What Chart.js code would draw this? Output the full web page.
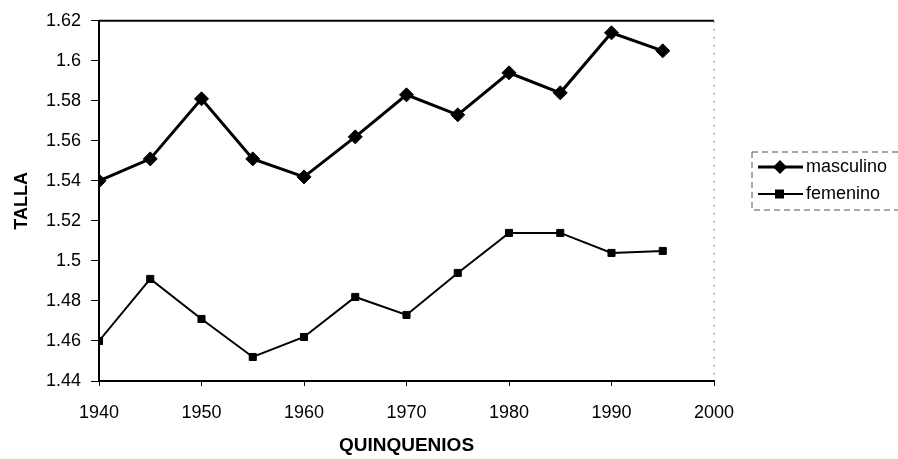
<!DOCTYPE html>
<html>
<head>
<meta charset="utf-8">
<script src="https://cdn.jsdelivr.net/npm/chart.js@4/dist/chart.umd.min.js"></script>
<style>
  html, body { margin: 0; padding: 0; background: #fff; }
  #wrap { width: 898px; height: 459px; position: relative; }
</style>
</head>
<body>
<div id="wrap"><canvas id="myChart"></canvas></div>
<script>
// quinquenios
var years = [1940, 1945, 1950, 1955, 1960, 1965, 1970, 1975, 1980, 1985, 1990, 1995]
// talla media
var masculino = [1.540, 1.551, 1.581, 1.551, 1.542, 1.562, 1.583, 1.573, 1.594, 1.584, 1.614, 1.605]
var femenino  = [1.460, 1.491, 1.471, 1.452, 1.462, 1.482, 1.473, 1.494, 1.514, 1.514, 1.504, 1.505]
var seriesNames = ['masculino', 'femenino']

function pts(vals){
  var out = []
  for(var i=0;i<years.length;i++){
    out.push({x: years[i], y: vals[i]})
  }
  return out
}

var FONT = '"Liberation Sans", Arial, sans-serif'

// box round the plot + hand drawn legend
var framePlugin = {
  id: 'frame',
  afterDraw: function(chart){
    var c = chart.ctx
    var a = chart.chartArea
    c.save()
    c.strokeStyle = '#000'
    c.lineWidth = 2
    c.beginPath()
    c.moveTo(a.left, a.top)
    c.lineTo(a.right, a.top)
    c.stroke()
    c.lineWidth = 1
    c.strokeStyle = '#777'
    c.setLineDash([2, 6])
    c.beginPath()
    c.moveTo(a.right, a.top)
    c.lineTo(a.right, a.bottom)
    c.stroke()

    // legend box
    var bx = 752, by = 152, bw = 150, bh = 58
    c.setLineDash([6, 4])
    c.strokeStyle = '#555'
    c.strokeRect(bx, by, bw, bh)
    c.setLineDash([])

    var rows = [167, 194]
    chart.data.datasets.forEach(function(ds, i){
      var y = rows[i]
      c.strokeStyle = '#000'
      c.lineWidth = ds.borderWidth
      c.beginPath()
      c.moveTo(758, y)
      c.lineTo(803, y)
      c.stroke()
      c.fillStyle = '#000'
      c.beginPath()
      if(ds.pointStyle === 'rectRot'){
        c.moveTo(780, y - 7); c.lineTo(787, y); c.lineTo(780, y + 7); c.lineTo(773, y)
      } else {
        c.rect(775, y - 4.5, 9, 9)
      }
      c.closePath()
      c.fill()
      c.font = '18px ' + FONT
      c.textBaseline = 'middle'
      c.textAlign = 'left'
      c.fillText(ds.label, 806, y)
    })
    c.restore()
  }
}

const ctx = document.getElementById('myChart')
new Chart(ctx, {
  type: 'line',
  data: {
    datasets: [
      {
        label: seriesNames[0],
        data: pts(masculino),
        borderColor: '#000',
        backgroundColor: '#000',
        borderWidth: 3,
        pointStyle: 'rectRot',
        pointRadius: 7,
        pointBorderWidth: 1
      },
      {
        label: seriesNames[1],
        data: pts(femenino),
        borderColor: '#000',
        backgroundColor: '#000',
        borderWidth: 2,
        pointStyle: 'rect',
        pointRadius: 5,
        pointBorderWidth: 1
      }
    ]
  },
  options: {
    responsive: true,
    maintainAspectRatio: false,
    animation: false,
    layout: { padding: { top: 18, right: 184, left: 0, bottom: 0 } },
    plugins: {
      legend: { display: false },
      tooltip: { enabled: false }
    },
    scales: {
      x: {
        type: 'linear',
        min: 1940,
        max: 2000,
        afterFit: function(s){ s.height = 78 },
        ticks: {
          stepSize: 10,
          padding: 16,
          color: '#000',
          font: { family: FONT, size: 18 },
          callback: function(v){ return String(v) }
        },
        grid: { drawOnChartArea: false, tickLength: 5, color: '#000' },
        border: { color: '#000', width: 2 },
        title: {
          display: true,
          text: 'QUINQUENIOS',
          color: '#000',
          font: { family: FONT, size: 19, weight: 'bold' },
          padding: { top: 0, bottom: 2 }
        }
      },
      y: {
        min: 1.44,
        max: 1.62,
        afterFit: function(s){ s.width = 99 },
        ticks: {
          stepSize: 0.02,
          padding: 10,
          color: '#000',
          font: { family: FONT, size: 18 },
          callback: function(v){ return String(parseFloat(v.toFixed(2))) }
        },
        grid: { drawOnChartArea: false, tickLength: 8, color: '#000' },
        border: { color: '#000', width: 2 },
        title: {
          display: true,
          text: 'TALLA',
          color: '#000',
          font: { family: FONT, size: 18, weight: 'bold' },
          padding: { top: 11, bottom: 0 }
        }
      }
    }
  },
  plugins: [framePlugin]
})
</script>
</body>
</html>
